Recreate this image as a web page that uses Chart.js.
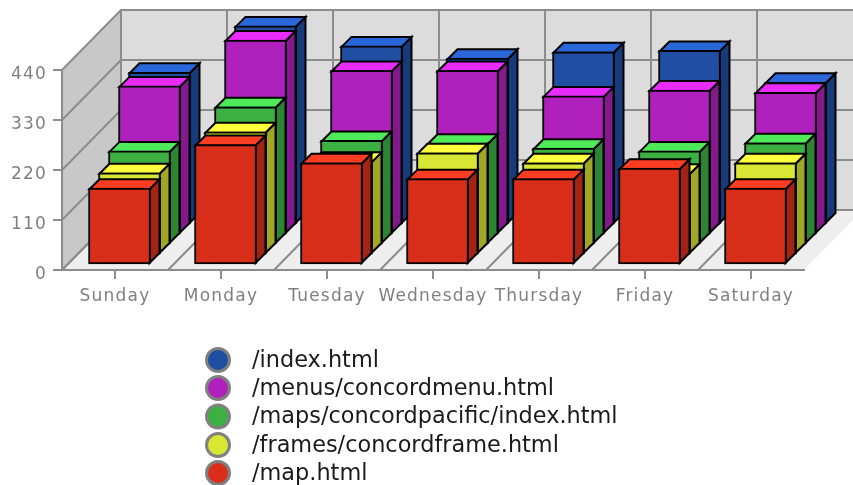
<!DOCTYPE html>
<html>
<head>
<meta charset="utf-8">
<style>
html,body{margin:0;padding:0;background:#fff;overflow:hidden}
#wrap{width:853px;height:485px}
canvas{filter:blur(0.4px)}
</style>
<script src="https://cdn.jsdelivr.net/npm/chart.js@4/dist/chart.umd.min.js"></script>
</head>
<body>
<div id="wrap"><canvas id="c" width="853" height="485"></canvas></div>
<script>
const categories = ["Sunday","Monday","Tuesday","Wednesday","Thursday","Friday","Saturday"];
const yTicks = [0,110,220,330,440];
const seriesNames = ["/index.html","/menus/concordmenu.html","/maps/concordpacific/index.html","/frames/concordframe.html","/map.html"];
const indexHtml = [336,438,394,367,381,384,314];
const menusHtml = [328,429,362,362,306,319,314];
const mapsHtml  = [207,304,230,224,213,207,225];
const framesHtml= [181,271,206,225,203,180,203];
const mapHtml   = [169,265,225,190,190,213,169];
const seriesValues = [indexHtml,menusHtml,mapsHtml,framesHtml,mapHtml];
const frontColors = ["#1f4ea3","#b020bd","#3cb043","#d8e634","#d92e1a"];
const topColors   = ["#2a68d9","#e92bfb","#4fea59","#ffff3d","#ff3d22"];
const sideColors  = ["#163a7a","#84188d","#2d8432","#a0a626","#a32314"];

const FLOOR_DX = 59, FLOOR_DY = 60, BAR_DEPTH = 10, GRID = "#8c8c8c";
const SPACING = "1.2px";

function faces(ctx, el, top, side) {
  const w = el.width / 2, l = el.x - w, r = el.x + w, t = el.y, b = el.base, d = BAR_DEPTH;
  ctx.lineWidth = 2; ctx.strokeStyle = "#000"; ctx.lineJoin = "miter";
  ctx.beginPath();
  ctx.moveTo(r-1,b-1); ctx.lineTo(r-1+d,b-1-d); ctx.lineTo(r-1+d,t+1-d); ctx.lineTo(r-1,t+1); ctx.closePath();
  ctx.fillStyle = side; ctx.fill(); ctx.stroke();
  ctx.beginPath();
  ctx.moveTo(l+1,t+1); ctx.lineTo(l+1+d,t+1-d); ctx.lineTo(r-1+d,t+1-d); ctx.lineTo(r-1,t+1); ctx.closePath();
  ctx.fillStyle = top; ctx.fill(); ctx.stroke();
}

const scene3d = {
  id: "scene3d",
  beforeDraw(chart) {
    const {ctx, scales:{x, y}} = chart;
    const L = x.left, R = x.right, T = y.top, B = y.bottom;
    ctx.letterSpacing = SPACING;
    ctx.save();
    // side wall
    ctx.fillStyle = "#c8c8c8";
    ctx.beginPath(); ctx.moveTo(L,T); ctx.lineTo(L+FLOOR_DX,T-FLOOR_DY); ctx.lineTo(L+FLOOR_DX,B-FLOOR_DY); ctx.lineTo(L,B); ctx.closePath(); ctx.fill();
    // back wall
    ctx.fillStyle = "#dcdcdc";
    ctx.fillRect(L+FLOOR_DX,T-FLOOR_DY,R-L,B-T);
    // floor
    ctx.fillStyle = "#eeeeee";
    ctx.beginPath(); ctx.moveTo(L,B); ctx.lineTo(R,B); ctx.lineTo(R+FLOOR_DX,B-FLOOR_DY); ctx.lineTo(L+FLOOR_DX,B-FLOOR_DY); ctx.closePath(); ctx.fill();
    ctx.strokeStyle = GRID; ctx.lineWidth = 2;
    yTicks.forEach(v => {
      const py = y.getPixelForValue(v);
      ctx.beginPath(); ctx.moveTo(L,py); ctx.lineTo(L+FLOOR_DX,py-FLOOR_DY); ctx.lineTo(R+FLOOR_DX,py-FLOOR_DY); ctx.stroke();
    });
    const step = (R-L)/categories.length;
    for (let i = 0; i <= categories.length; i++) {
      const px = L + i*step;
      ctx.beginPath(); ctx.moveTo(px+FLOOR_DX,T-FLOOR_DY); ctx.lineTo(px+FLOOR_DX,B-FLOOR_DY);
      if (i < categories.length) ctx.lineTo(px,B);
      ctx.stroke();
    }
    ctx.restore();
  },
  beforeDatasetDraw(chart, args) {
    const ctx = chart.ctx, i = args.index, rank = 4 - i;
    ctx.save();
    ctx.translate(4.5 + BAR_DEPTH*rank, -5 - BAR_DEPTH*rank);
    args.meta.data.forEach(el => faces(ctx, el, topColors[i], sideColors[i]));
  },
  afterDatasetDraw(chart) { chart.ctx.restore(); },
  afterDraw(chart) {
    const ctx = chart.ctx;
    ctx.save();
    ctx.letterSpacing = "0px";
    seriesNames.forEach((name, i) => {
      const cy = [360,388,416.5,445,473][i];
      ctx.beginPath(); ctx.arc(218,cy,11.5,0,Math.PI*2);
      ctx.fillStyle = frontColors[i]; ctx.fill();
      ctx.lineWidth = 3; ctx.strokeStyle = "#808080"; ctx.stroke();
      ctx.fillStyle = "#1a1a1a";
      ctx.font = "22.4px 'DejaVu Sans'";
      ctx.textAlign = "left"; ctx.textBaseline = "middle";
      ctx.fillText(name, 252, cy+1);
    });
    ctx.restore();
  }
};

const canvas = document.getElementById("c");
const tickFont = {family:"'DejaVu Sans'", size:17};
new Chart(canvas, {
  type: "bar",
  data: {
    labels: categories,
    datasets: seriesValues.map((vals,i) => ({
      label: seriesNames[i], data: vals, order: 4-i,
      backgroundColor: frontColors[i], borderColor:"#000", borderWidth:2,
      borderSkipped:false, barThickness:62, grouped:false, clip:false
    }))
  },
  options: {
    responsive:false, animation:false, events:[],
    layout:{padding:{left:0,top:70,right:49,bottom:0}},
    plugins:{legend:{display:false},tooltip:{enabled:false},title:{display:false}},
    scales:{
      x:{
        afterFit(s){s.height=215;},
        offset:true,
        grid:{offset:false,drawOnChartArea:false,color:GRID,lineWidth:2,tickLength:9},
        border:{color:GRID,width:2},
        ticks:{color:"#808080",font:tickFont,autoSkip:false,maxRotation:0,minRotation:0,padding:7}
      },
      y:{
        afterFit(s){s.width=62;},
        min:0,max:440,
        afterBuildTicks(s){s.ticks=yTicks.map(v=>({value:v}));},
        grid:{drawOnChartArea:false,color:GRID,lineWidth:2,tickLength:9},
        border:{color:GRID,width:2},
        ticks:{color:"#808080",font:tickFont,padding:6,labelOffset:5}
      }
    }
  },
  plugins:[scene3d]
});
</script>
</body>
</html>
